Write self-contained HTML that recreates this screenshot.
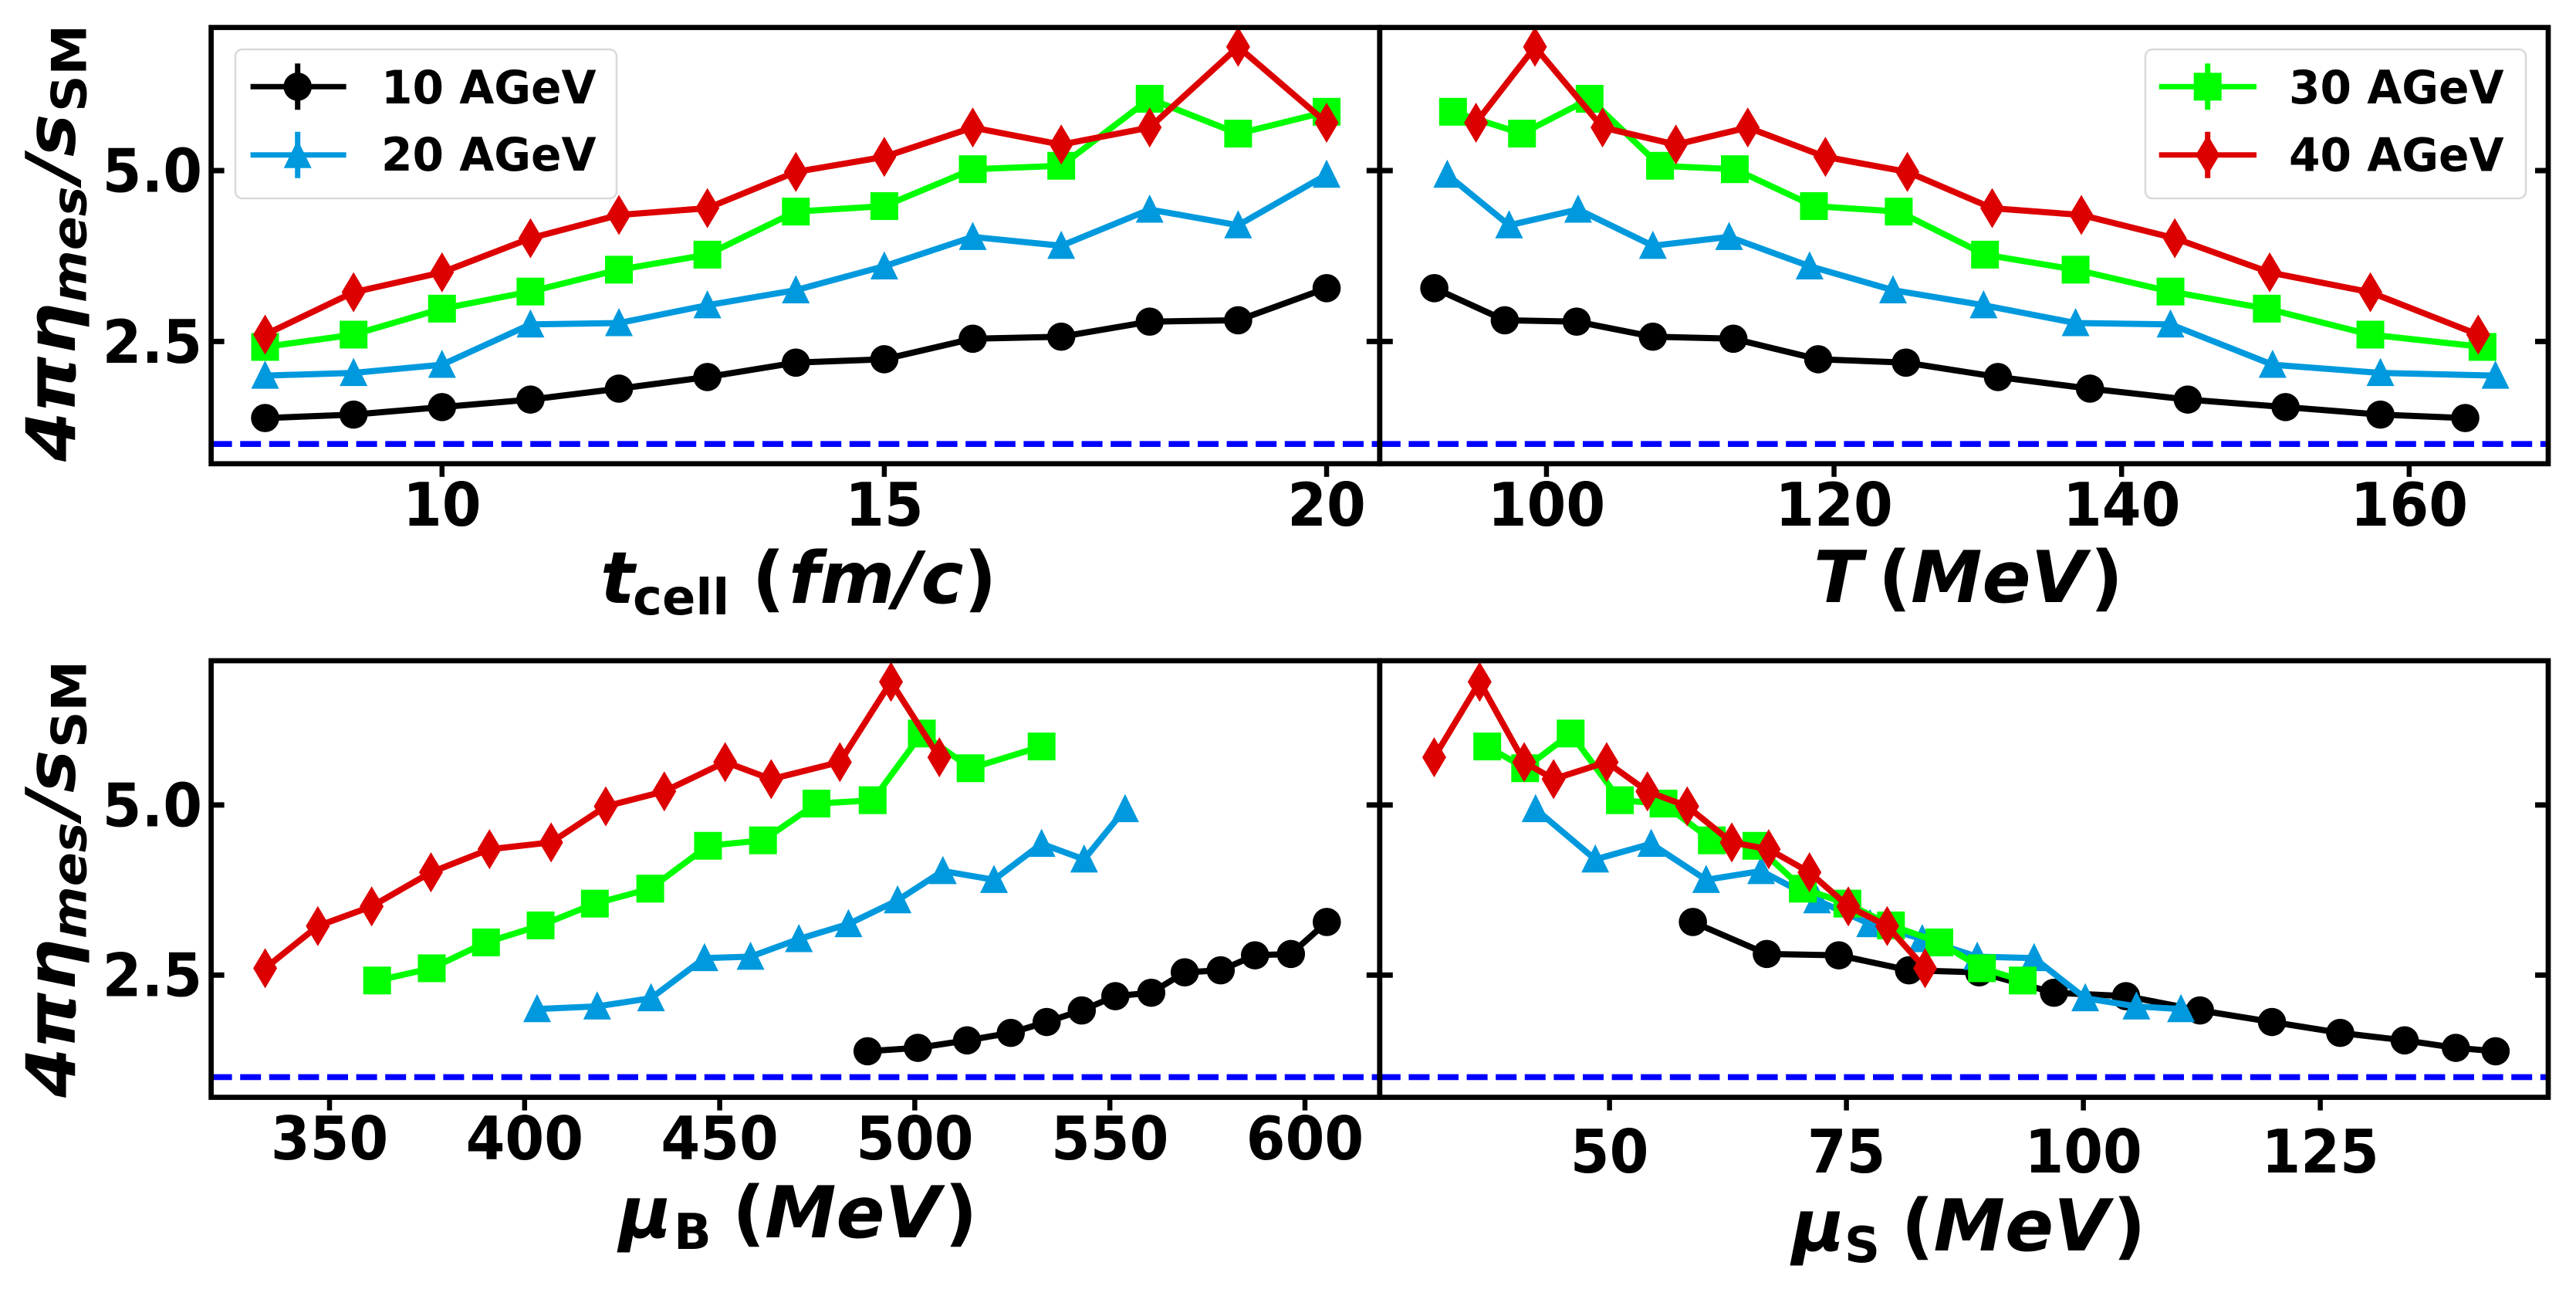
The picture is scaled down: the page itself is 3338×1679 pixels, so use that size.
<!DOCTYPE html>
<html lang="en">
<head>
<meta charset="utf-8">
<title>Shear viscosity ratio panels</title>
<style>
  html, body { margin: 0; padding: 0; background: #ffffff; }
  svg { display: block; }
  text { font-family: "DejaVu Sans", "Liberation Sans", sans-serif; font-weight: 700; fill: #000; }
  .tick { font-size: 73px; }
  .leg { font-size: 60px; }
  .ax { font-size: 93px; font-style: italic; }
  .up { font-style: normal; }
  .sub { font-size: 64px; }
</style>
</head>
<body>
<svg id="chart" xmlns="http://www.w3.org/2000/svg" width="3338" height="1679" viewBox="0 0 3338 1679">
  <rect x="0" y="0" width="3338" height="1679" fill="#ffffff"/>
  <g id="marks"></g>
  <g id="frames"></g>

  <text class="ax" transform="translate(97 595) rotate(-90) scale(1,0.95)"><tspan x="-3" y="0">4</tspan><tspan x="60" y="0">π</tspan><tspan x="136" y="0">η</tspan><tspan x="203" y="15" font-size="65">mes</tspan><tspan x="360" y="0">/</tspan><tspan x="392" y="0">s</tspan><tspan x="450" y="15" class="up" font-size="66">SM</tspan></text>
  <text class="ax" transform="translate(97 1419) rotate(-90) scale(1,0.95)"><tspan x="-3" y="0">4</tspan><tspan x="60" y="0">π</tspan><tspan x="136" y="0">η</tspan><tspan x="203" y="15" font-size="65">mes</tspan><tspan x="360" y="0">/</tspan><tspan x="392" y="0">s</tspan><tspan x="450" y="15" class="up" font-size="66">SM</tspan></text>

  <text class="ax"><tspan x="778" y="781">t</tspan><tspan x="820" y="796" class="up sub">cell</tspan><tspan x="974.5" y="781" class="up">(</tspan><tspan x="1022" y="781">fm/c</tspan><tspan x="1249" y="781" class="up">)</tspan></text>
  <text class="ax"><tspan x="2350" y="780">T</tspan><tspan x="2434" y="780" class="up">(</tspan><tspan x="2476" y="780">MeV</tspan><tspan x="2708.5" y="780" class="up">)</tspan></text>
  <text class="ax"><tspan x="802" y="1603">μ</tspan><tspan x="873" y="1618" class="up sub">B</tspan><tspan x="949" y="1603" class="up">(</tspan><tspan x="991" y="1603">MeV</tspan><tspan x="1224" y="1603" class="up">)</tspan></text>
  <text class="ax"><tspan x="2322" y="1620">μ</tspan><tspan x="2390" y="1635" class="up sub">S</tspan><tspan x="2463.5" y="1620" class="up">(</tspan><tspan x="2505.5" y="1620">MeV</tspan><tspan x="2738" y="1620" class="up">)</tspan></text>

  <g id="legend-left">
    <rect x="305" y="64" width="494" height="193" rx="9" fill="#ffffff" fill-opacity="0.8" stroke="#d9d9d9" stroke-width="2.5"/>
    <text class="leg" transform="translate(494 134) scale(0.97,1)">10 AGeV</text>
    <text class="leg" transform="translate(494 221) scale(0.97,1)">20 AGeV</text>
  </g>
  <g id="legend-right">
    <rect x="2780" y="64" width="493" height="193" rx="9" fill="#ffffff" fill-opacity="0.8" stroke="#d9d9d9" stroke-width="2.5"/>
    <text class="leg" transform="translate(2966 134) scale(0.97,1)">30 AGeV</text>
    <text class="leg" transform="translate(2966 221.5) scale(0.97,1)">40 AGeV</text>
  </g>
</svg>

<script>
// ---- data (one entry per cell time, 8..20 fm/c) ----
const tCell = [8, 9, 10, 11, 12, 13, 14, 15, 16, 17, 18, 19, 20];

const ratio10 = [1.38, 1.43, 1.54, 1.65, 1.81, 1.98, 2.19, 2.24, 2.54, 2.57, 2.79, 2.81, 3.28];
const ratio20 = [2.00, 2.04, 2.16, 2.75, 2.77, 3.03, 3.25, 3.60, 4.03, 3.90, 4.43, 4.20, 4.94];
const ratio30 = [2.42, 2.60, 2.98, 3.23, 3.55, 3.77, 4.40, 4.48, 5.02, 5.07, 6.05, 5.54, 5.86];
const ratio40 = [2.60, 3.22, 3.51, 4.01, 4.35, 4.45, 4.98, 5.20, 5.63, 5.38, 5.63, 6.81, 5.70];

const temp10 = [163.9, 158.0, 151.4, 144.6, 137.8, 131.4, 125.0, 118.9, 113.0, 107.4, 102.1, 97.1, 92.2];
const temp20 = [166.0, 158.0, 150.5, 143.4, 136.8, 130.4, 124.1, 118.3, 112.7, 107.4, 102.2, 97.4, 93.1];
const temp30 = [165.1, 157.3, 150.1, 143.4, 136.8, 130.5, 124.5, 118.6, 113.1, 107.9, 103.0, 98.3, 93.5];
const temp40 = [164.8, 157.3, 150.3, 143.7, 137.2, 131.0, 125.1, 119.4, 114.0, 109.0, 103.9, 99.2, 95.1];

const muB10 = [487.9, 500.8, 513.4, 524.6, 533.8, 542.8, 551.4, 560.6, 569.2, 578.4, 587.2, 596.4, 605.6];
const muB20 = [403.2, 418.6, 432.4, 446.1, 457.9, 470.3, 483.0, 495.6, 507.2, 520.3, 532.5, 543.4, 553.9];
const muB30 = [362.2, 376.2, 390.1, 404.1, 418.0, 432.2, 447.0, 461.1, 474.8, 489.2, 501.8, 514.3, 532.5];
const muB40 = [333.5, 347.0, 360.8, 376.0, 391.0, 406.8, 420.8, 435.8, 451.4, 463.2, 480.8, 493.9, 506.3];

const muS10 = [143.5, 139.3, 133.9, 127.1, 119.9, 112.3, 104.5, 96.9, 89.0, 81.6, 74.2, 66.6, 58.8];
const muS20 = [110.3, 105.6, 100.2, 94.8, 88.8, 83.0, 77.5, 71.9, 66.0, 60.2, 54.4, 48.5, 42.2];
const muS30 = [93.6, 89.3, 84.8, 79.7, 75.1, 70.4, 65.5, 60.8, 55.7, 51.1, 45.9, 41.1, 37.1];
const muS40 = [83.3, 79.3, 75.2, 71.1, 66.8, 62.9, 58.2, 54.0, 49.7, 44.1, 41.0, 36.3, 31.5];

const kssBound = [1];

const yTicks = [2.5, 5.0];
const yTickLabels = ['2.5', '5.0'];
const xTicksTcell = [10, 15, 20];
const xTicksTemp = [100, 120, 140, 160];
const xTicksMuB = [350, 400, 450, 500, 550, 600];
const xTicksMuS = [50, 75, 100, 125];

// ---- layout ----
const NS = 'http://www.w3.org/2000/svg';
const marksLayer = document.getElementById('marks');
const framesLayer = document.getElementById('frames');
const legendLeft = document.getElementById('legend-left');
const legendRight = document.getElementById('legend-right');

const seriesStyle = [
  { key: '10-agev', color: '#000000', marker: 'circle' },
  { key: '20-agev', color: '#0099dd', marker: 'triangle' },
  { key: '30-agev', color: '#00ff00', marker: 'square' },
  { key: '40-agev', color: '#dd0000', marker: 'diamond' }
];
const ratios = [ratio10, ratio20, ratio30, ratio40];

const panels = [
  { key: 'tcell', left: 273.6, right: 1787.8, top: 35.6, bottom: 600.8, xMin: 7.39, xMax: 20.6, yMin: 0.711, yMax: 7.093,
    xs: [tCell, tCell, tCell, tCell], ticks: xTicksTcell, labelY: 681, leftLabels: true },
  { key: 'temperature', left: 1787.8, right: 3302, top: 35.6, bottom: 600.8, xMin: 88.4, xMax: 169.67, yMin: 0.711, yMax: 7.093,
    xs: [temp10, temp20, temp30, temp40], ticks: xTicksTemp, labelY: 681, leftLabels: false },
  { key: 'mu-b', left: 273.6, right: 1787.8, top: 856, bottom: 1421.6, xMin: 319.66, xMax: 619.15, yMin: 0.703, yMax: 7.12,
    xs: [muB10, muB20, muB30, muB40], ticks: xTicksMuB, labelY: 1502, leftLabels: true },
  { key: 'mu-s', left: 1787.8, right: 3302, top: 856, bottom: 1421.6, xMin: 25.75, xMax: 149.05, yMin: 0.703, yMax: 7.12,
    xs: [muS10, muS20, muS30, muS40], ticks: xTicksMuS, labelY: 1519, leftLabels: false }
];

function make(tag, attrs, parent) {
  const el = document.createElementNS(NS, tag);
  for (const k in attrs) el.setAttribute(k, attrs[k]);
  parent.appendChild(el);
  return el;
}

function xScale(p, v) { return p.left + (v - p.xMin) / (p.xMax - p.xMin) * (p.right - p.left); }
function yScale(p, v) { return p.bottom - (v - p.yMin) / (p.yMax - p.yMin) * (p.bottom - p.top); }

function drawMarker(kind, cx, cy, color, parent) {
  let el;
  if (kind === 'circle') {
    el = make('circle', { cx: cx, cy: cy, r: 18.3, fill: color }, parent);
  } else if (kind === 'square') {
    el = make('rect', { x: cx - 18, y: cy - 18, width: 36, height: 36, fill: color }, parent);
  } else if (kind === 'triangle') {
    el = make('polygon', { points: (cx) + ',' + (cy - 19.5) + ' ' + (cx + 18) + ',' + (cy + 17) + ' ' + (cx - 18) + ',' + (cy + 17), fill: color }, parent);
  } else {
    el = make('polygon', { points: (cx) + ',' + (cy - 26) + ' ' + (cx + 15.5) + ',' + (cy) + ' ' + (cx) + ',' + (cy + 26) + ' ' + (cx - 15.5) + ',' + (cy), fill: color }, parent);
  }
  return el;
}

panels.forEach(function (p) {
  // KSS bound
  const dashY = yScale(p, kssBound[0]);
  const dash = make('line', { x1: p.left, x2: p.right, y1: dashY, y2: dashY, stroke: '#0000ff', 'stroke-width': 7.7, 'stroke-dasharray': '27 10.6' }, marksLayer);
  
  

  // series
  seriesStyle.forEach(function (s, i) {
    const group = make('g', {}, marksLayer);
    
    
    const pts = p.xs[i].map(function (x, j) { return xScale(p, x).toFixed(1) + ',' + yScale(p, ratios[i][j]).toFixed(1); }).join(' ');
    const line = make('polyline', { points: pts, fill: 'none', stroke: s.color, 'stroke-width': 8, 'stroke-linejoin': 'round' }, group);
    
    
    p.xs[i].forEach(function (x, j) {
      const m = drawMarker(s.marker, xScale(p, x), yScale(p, ratios[i][j]), s.color, group);
      
      
    });
  });

  // y ticks (inward, both sides)
  yTicks.forEach(function (t, i) {
    const y = yScale(p, t);
    const a = make('line', { x1: p.left, x2: p.left + 17, y1: y, y2: y, stroke: '#000', 'stroke-width': 7 }, framesLayer);
    
    
    const b = make('line', { x1: p.right - 17, x2: p.right, y1: y, y2: y, stroke: '#000', 'stroke-width': 7 }, framesLayer);
    
    
    if (p.leftLabels) {
      const lab = make('text', { class: 'tick', transform: 'translate(262 ' + (y + 27.5) + ') scale(1,1.06)', 'text-anchor': 'end' }, framesLayer);
      lab.textContent = yTickLabels[i];
      
      
    }
  });

  // x ticks (outward)
  p.ticks.forEach(function (t) {
    const x = xScale(p, t);
    const tk = make('line', { x1: x, x2: x, y1: p.bottom, y2: p.bottom + 17, stroke: '#000', 'stroke-width': 6.5 }, framesLayer);
    
    
    const lab = make('text', { class: 'tick', transform: 'translate(' + x + ' ' + p.labelY + ') scale(1,1.06)', 'text-anchor': 'middle' }, framesLayer);
    lab.textContent = String(t);
    
    
  });

  // frame
  const frame = make('rect', { x: p.left, y: p.top, width: p.right - p.left, height: p.bottom - p.top, fill: 'none', stroke: '#000', 'stroke-width': 6.7 }, framesLayer);
  
  
});

// legend handles
function legendHandle(parent, style, x1, x2, cx, cy) {
  const g = make('g', {}, parent);
  
  
  make('line', { x1: x1, x2: x2, y1: cy, y2: cy, stroke: style.color, 'stroke-width': 7 }, g);
  make('line', { x1: cx, x2: cx, y1: cy - 30, y2: cy + 30, stroke: style.color, 'stroke-width': 7 }, g);
  drawMarker(style.marker, cx, cy, style.color, g);
}
legendHandle(legendLeft, seriesStyle[0], 324.6, 448.6, 385.7, 112.3);
legendHandle(legendLeft, seriesStyle[1], 324.6, 448.6, 385.7, 200.7);
legendHandle(legendRight, seriesStyle[2], 2797.7, 2924, 2860.7, 112.3);
legendHandle(legendRight, seriesStyle[3], 2797.7, 2924, 2860.7, 200.7);
</script>
</body>
</html>
